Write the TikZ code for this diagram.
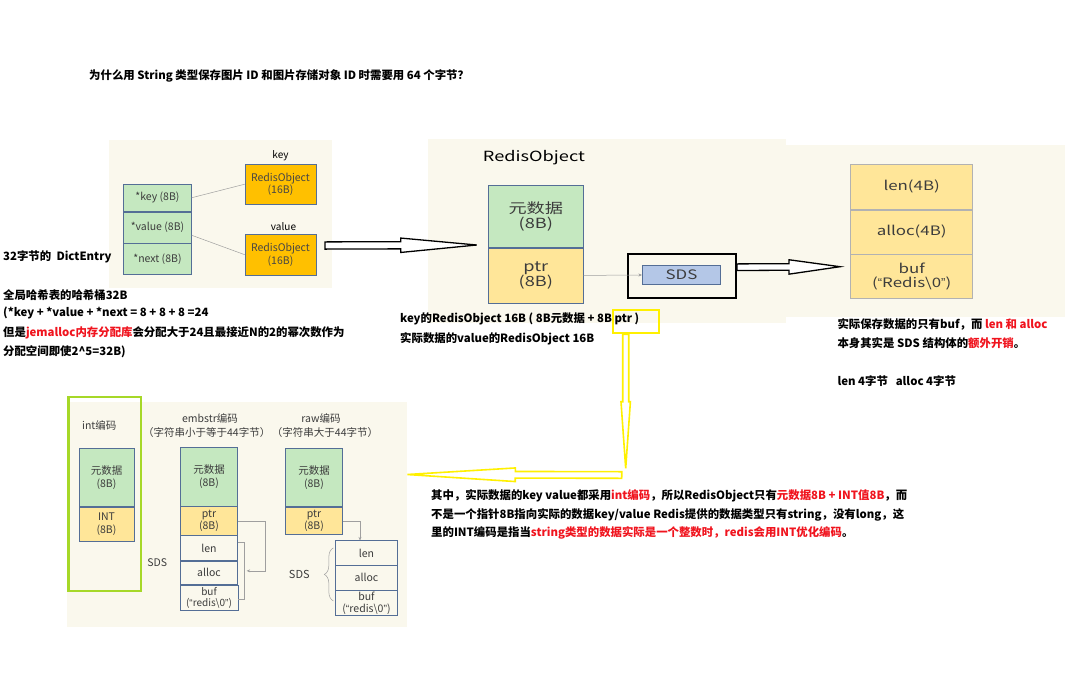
\documentclass[tikz,border=0pt]{standalone}
\usepackage{fontspec}
\setmainfont{Noto Sans CJK SC}
\newfontfamily\widefont[FakeStretch=1.3]{Noto Sans CJK SC}
\newfontfamily\quotefont{Liberation Sans}
\newcommand{\oq}{{\quotefont “}}
\newcommand{\cq}{{\quotefont ”}}
\usetikzlibrary{arrows.meta,calc,positioning,decorations.pathreplacing}

\definecolor{panel}{RGB}{250,248,237}
\definecolor{meta}{RGB}{197,232,192}
\definecolor{ptrbg}{RGB}{255,230,153}
\definecolor{robj}{RGB}{255,192,0}
\definecolor{sdsblue}{RGB}{180,199,231}
\definecolor{edge}{RGB}{84,110,150}
\definecolor{lime}{RGB}{166,216,40}
\definecolor{hl}{RGB}{255,240,0}
\definecolor{warn}{RGB}{240,20,30}
\definecolor{ink}{RGB}{60,60,60}

\tikzset{
  cell/.style={draw=edge, line width=0.6pt, text=ink, align=center, inner sep=0pt},
  metabox/.style={cell, fill=meta},
  ptrbox/.style={cell, fill=ptrbg},
  sdsbox/.style={cell, fill=panel},
  note/.style={anchor=west, inner sep=0pt, font=\fontsize{11.4}{13}\selectfont\bfseries},
  tag/.style={text=ink, inner sep=0pt, font=\fontsize{10.5}{12.5}\selectfont},
  link/.style={draw=gray!75, line width=0.5pt},
  pin/.style={link, -{Stealth[length=3.5pt,width=3pt]}},
  fat/.style={draw=black, fill=white, line width=1.3pt},
  glow/.style={draw=hl, fill=white, line width=1.6pt}}

% hollow arrow: style, from, to, shaft half width, head length, head half width
\newcommand{\fatarrow}[6]{%
  \coordinate (fa-h) at ($(#3)!#5!(#2)$);
  \draw[#1] ($(#2)!#4!90:(#3)$) -- ($(fa-h)!#4!90:(#3)$) -- ($(fa-h)!#6!90:(#3)$) -- (#3)
    -- ($(fa-h)!#6!-90:(#3)$) -- ($(fa-h)!#4!-90:(#3)$) -- ($(#2)!#4!-90:(#3)$) -- cycle;}

\begin{document}
\begin{tikzpicture}[x=1pt, y=-1pt, font=\fontsize{10}{12}\selectfont]
  \useasboundingbox (0,0) rectangle (1080,681);
  \fill[white] (0,0) rectangle (1080,681);
  % cream panels
  \fill[panel] (109,140) rectangle (332,288);
  \fill[panel] (428,139) rectangle (786,323);
  \fill[panel] (786,145) rectangle (1065,317);
  \fill[panel] (67,402) rectangle (407,627);

  \node[note] (title) at (89,75.7) {为什么用 String 类型保存图片 ID 和图片存储对象 ID 时需要用 64 个字节？};

  % DictEntry
  \node[metabox, minimum width=68pt, minimum height=27pt, font=\fontsize{10.5}{12}\selectfont] (dkey) at (157.5,197.7) {*key (8B)};
  \node[metabox, minimum width=68pt, minimum height=31pt, font=\fontsize{10.5}{12}\selectfont, below=0pt of dkey] (dval) {*value (8B)};
  \node[metabox, minimum width=68pt, minimum height=31pt, font=\fontsize{10.5}{12}\selectfont, below=0pt of dval] (dnext) {*next (8B)};
  \node[cell, fill=robj, text=gray!55!black, minimum width=71pt, minimum height=40pt, font=\fontsize{10.5}{12.5}\selectfont] (kobj) at (280.5,184.2) {RedisObject\\(16B)};
  \node[cell, fill=robj, text=gray!55!black, minimum width=71pt, minimum height=41pt, font=\fontsize{10.5}{12.5}\selectfont] (vobj) at (280.5,254.7) {RedisObject\\(16B)};
  \node[inner sep=0pt, above=3pt of kobj] (klabel) {key};
  \node[inner sep=0pt, above=3pt of vobj, xshift=3pt] (vlabel) {value};
  \draw[link] (dkey.east) -- (kobj.west);
  \draw[link] ($(dval.east)+(0,8)$) -- (vobj.west);

  \node[note] (dictname) at (3,256.5) {32字节的\ \ DictEntry};
  \node[note] (bucket) at (3,295) {全局哈希表的哈希桶32B};
  \node[note] (sum) at (3,313.3) {(*key + *value + *next = 8 + 8 + 8 =24};
  \node[note] (jem) at (3,333.3) {但是\textcolor{warn}{jemalloc内存分配库}会分配大于24且最接近N的2的幂次数作为};
  \node[note] (pow) at (3,351.7) {分配空间即使2\textasciicircum 5=32B)};

  % RedisObject
  \node[font=\widefont\fontsize{14}{16}\selectfont, inner sep=0pt] (rolabel) at (534,158) {RedisObject};
  \node[metabox, minimum width=95pt, minimum height=61.6pt, font=\widefont\fontsize{14}{15}\selectfont] (meta) at (535.8,216.5) {元数据\\(8B)};
  \node[ptrbox, minimum width=95pt, minimum height=55pt, font=\widefont\fontsize{14}{15}\selectfont, below=0pt of meta] (ptr) {ptr\\(8B)};
  \node[draw=black, line width=2pt, minimum width=107.7pt, minimum height=44.3pt, inner sep=0pt] (sdsframe) at (682.2,276.2) {};
  \node[cell, fill=sdsblue, minimum width=78.4pt, minimum height=18.6pt, font=\widefont\fontsize{13}{15}\selectfont] (sds) at (681.5,275) {SDS};
  \draw[pin] (ptr.east) -- (sds.west);

  % SDS struct
  \node[ptrbox, draw=gray!60, minimum width=122pt, minimum height=45pt, font=\widefont\fontsize{13}{15}\selectfont] (slen) at (911.7,186.8) {len(4B)};
  \node[ptrbox, draw=gray!60, minimum width=122pt, minimum height=44pt, font=\widefont\fontsize{13}{15}\selectfont, below=0pt of slen] (salloc) {alloc(4B)};
  \node[ptrbox, draw=gray!60, minimum width=122pt, minimum height=44pt, font=\widefont\fontsize{13}{14}\selectfont, below=0pt of salloc] (sbuf) {buf\\(\oq Redis\textbackslash 0\cq)};

  % hollow arrows
  \coordinate (a1s) at (325,245.5);
  \coordinate (a1e) at (476.7,245);
  \fatarrow{fat}{a1s}{a1e}{3.6pt}{76pt}{7.2pt}
  \coordinate (a2s) at ($(sdsframe.east)+(0,-9)$);
  \coordinate (a2e) at (840,266.7);
  \fatarrow{fat}{a2s}{a2e}{3.3pt}{51pt}{7.2pt}

  \node[note] (keyro) at (400,319.3) {key的RedisObject 16B ( 8B元数据 + 8B ptr )};
  \node[note] (valro) at (400,338.3) {实际数据的value的RedisObject 16B};
  \node[note] (bufonly) at (837.3,324.3) {实际保存数据的只有buf，而 \textcolor{warn}{len 和 alloc}};
  \node[note] (extra) at (837.3,343.3) {本身其实是 SDS 结构体的\textcolor{warn}{额外开销}。};
  \node[note] (bytes) at (837.3,381) {len 4字节\ \ \ alloc 4字节};

  % yellow callout
  \node[draw=hl, line width=2pt, minimum width=46pt, minimum height=23.3pt, inner sep=0pt] (ptrmark) at (636.3,321.7) {};
  \coordinate (y1s) at ($(ptrmark.south)+(-10.6,0)$);
  \coordinate (y1e) at (625.7,468.3);
  \fatarrow{glow}{y1s}{y1e}{3pt}{66.6pt}{4.7pt}
  \coordinate (y2s) at (621.7,475);
  \coordinate (y2e) at (407.3,474.5);
  \fatarrow{glow}{y2s}{y2e}{3.3pt}{108pt}{6.8pt}

  \node[note] (para1) at (431,496) {其中，实际数据的key value都采用\textcolor{warn}{int编码}，所以RedisObject只有\textcolor{warn}{元数据8B + INT值8B}，而};
  \node[note] (para2) at (431,515) {不是一个指针8B指向实际的数据key/value Redis提供的数据类型只有string，没有long，这};
  \node[note] (para3) at (431,533.3) {里的INT编码是指当\textcolor{warn}{string类型的数据实际是一个整数时，redis会用INT优化编码}。};

  % int encoding
  \node[draw=lime, line width=2.5pt, minimum width=72.7pt, minimum height=194.3pt, inner sep=0pt] (intframe) at (104.7,493.9) {};
  \node[tag] (intlabel) at (99.3,425) {int编码};
  \node[metabox, minimum width=55pt, minimum height=58.4pt, font=\fontsize{10.5}{13}\selectfont] (imeta) at (106.5,477.5) {元数据\\(8B)};
  \node[ptrbox, minimum width=55pt, minimum height=34pt, font=\fontsize{10.5}{12.5}\selectfont, below=0pt of imeta] (iint) {INT\\(8B)};

  % embstr encoding
  \node[tag] (emblabel) at (210,418.3) {embstr编码};
  \node[tag] (embnote) at (206.7,432.3) {（字符串小于等于44字节）};
  \node[metabox, minimum width=56.7pt, minimum height=58.7pt, font=\fontsize{10.5}{13}\selectfont] (emeta) at (209,476.7) {元数据\\(8B)};
  \node[ptrbox, minimum width=56.7pt, minimum height=28.3pt, font=\fontsize{10.5}{12}\selectfont, below=0pt of emeta] (eptr) {ptr\\(8B)};
  \node[sdsbox, minimum width=56.7pt, minimum height=25pt, font=\fontsize{10.5}{12}\selectfont, below=0pt of eptr] (elen) {len};
  \node[sdsbox, minimum width=56.7pt, minimum height=23.4pt, font=\fontsize{10.5}{12}\selectfont, below=0pt of elen] (ealloc) {alloc};
  \node[sdsbox, minimum width=58pt, minimum height=25.6pt, font=\fontsize{10}{11.5}\selectfont, below=0pt of ealloc] (ebuf) {buf\\(\oq redis\textbackslash 0\cq)};
  \node[tag] (esds) at (157.3,562.3) {SDS};
  \draw[link] ($(elen.east)+(0,-6)$) -- ++(7,0) |- ($(ebuf.east)+(0,1)$);
  \draw[pin] (eptr.east) -- ++(28,0) |- ($(ealloc.east)+(9,-2)$);

  % raw encoding
  \node[tag] (rawlabel) at (321,418.3) {raw编码};
  \node[tag] (rawnote) at (325,432.3) {（字符串大于44字节）};
  \node[metabox, minimum width=56.6pt, minimum height=58.4pt, font=\fontsize{10.5}{13}\selectfont] (rmeta) at (314,477.5) {元数据\\(8B)};
  \node[ptrbox, minimum width=56.6pt, minimum height=27.3pt, font=\fontsize{10.5}{12}\selectfont, below=0pt of rmeta] (rptr) {ptr\\(8B)};
  \node[sdsbox, minimum width=61.7pt, minimum height=24.3pt, font=\fontsize{10.5}{12}\selectfont] (rlen) at (366.5,552.9) {len};
  \node[sdsbox, minimum width=61.7pt, minimum height=24.3pt, font=\fontsize{10.5}{12}\selectfont, below=0pt of rlen] (ralloc) {alloc};
  \node[sdsbox, minimum width=61.7pt, minimum height=24.7pt, font=\fontsize{10.5}{12}\selectfont, below=0pt of ralloc] (rbuf) {buf\\(\oq redis\textbackslash 0\cq)};
  \draw[pin] (rptr.east) -| ($(rlen.north)+(-6.5,0)$);
  \draw[link, decorate, decoration={brace, amplitude=9pt}] ($(rbuf.west)+(-2,-2)$) -- ($(rlen.west)+(-2,-5)$);
  \node[tag, font=\fontsize{11}{13}\selectfont] (rsds) at (299.3,574) {SDS};
\end{tikzpicture}
\end{document}
